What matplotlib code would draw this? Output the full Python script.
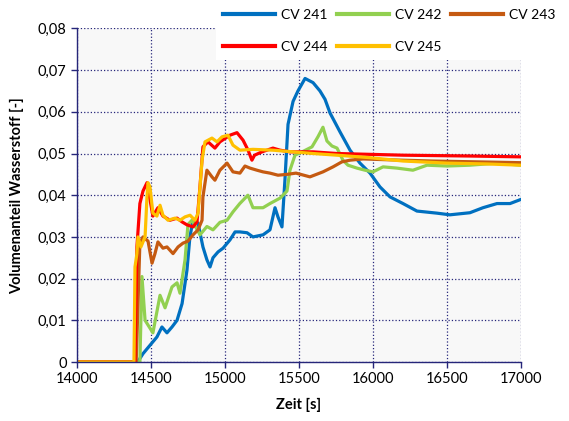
#import libraries
import matplotlib
matplotlib.use('Agg')
import matplotlib.pyplot as plt
import numpy as np

plt.rcParams['font.family'] = ['Lato', 'DejaVu Sans']

# data (time in s, hydrogen volume fraction)
t_241 = [14000, 14410, 14446, 14493, 14540, 14574, 14608, 14642, 14676, 14710, 14743, 14763,
         14784, 14818, 14851, 14878, 14899, 14919, 14953, 14987, 15034, 15068, 15101, 15149,
         15189, 15257, 15304, 15338, 15358, 15385, 15405, 15426, 15460, 15493, 15541, 15595,
         15642, 15676, 15710, 15777, 15845, 15912, 15980, 16047, 16115, 16203, 16297, 16432,
         16520, 16655, 16743, 16838, 16926, 17000]
v_241 = [0, 0, 0.002, 0.004, 0.006, 0.0084, 0.007, 0.0084, 0.010, 0.014, 0.022, 0.030,
         0.034, 0.0333, 0.0276, 0.0245, 0.0228, 0.025, 0.0264, 0.0273, 0.0293, 0.0312, 0.0312, 0.031,
         0.030, 0.0305, 0.0317, 0.037, 0.0348, 0.0324, 0.0436, 0.057, 0.0625, 0.065, 0.068, 0.067,
         0.065, 0.063, 0.0597, 0.0552, 0.0508, 0.0477, 0.0453, 0.042, 0.0396, 0.038, 0.0362, 0.0357,
         0.0353, 0.0358, 0.037, 0.038, 0.038, 0.039]

t_242 = [14000, 14425, 14439, 14460, 14513, 14561, 14595, 14642, 14676, 14696, 14730, 14750,
         14777, 14831, 14878, 14919, 14966, 15014, 15054, 15100, 15155, 15189, 15257, 15304,
         15372, 15419, 15439, 15473, 15527, 15588, 15628, 15662, 15689, 15723, 15757, 15797,
         15831, 15892, 15946, 16000, 16068, 16162, 16270, 16365, 16500, 16655, 16838, 17000]
v_242 = [0, 0, 0.0205, 0.010, 0.007, 0.016, 0.013, 0.018, 0.019, 0.0165, 0.0245, 0.033,
         0.034, 0.0305, 0.0325, 0.0317, 0.0335, 0.034, 0.036, 0.038, 0.040, 0.037, 0.037, 0.038,
         0.0393, 0.041, 0.046, 0.0496, 0.0505, 0.0516, 0.054, 0.0563, 0.053, 0.0518, 0.0513, 0.0484,
         0.0472, 0.0465, 0.046, 0.0456, 0.0468, 0.0465, 0.046, 0.0472, 0.047, 0.0472, 0.0477, 0.0472]

t_243 = [14000, 14400, 14425, 14446, 14480, 14507, 14527, 14547, 14581, 14608, 14649, 14683,
         14716, 14750, 14784, 14818, 14845, 14851, 14878, 14912, 14932, 14966, 15014, 15054,
         15101, 15135, 15169, 15216, 15257, 15304, 15358, 15419, 15480, 15574, 15662, 15730,
         15790, 15845, 15933, 16100, 16400, 16700, 17000]
v_243 = [0, 0, 0.0285, 0.030, 0.029, 0.0237, 0.026, 0.0288, 0.0273, 0.0276, 0.026, 0.0276,
         0.0285, 0.029, 0.0305, 0.0317, 0.034, 0.0396, 0.046, 0.0444, 0.0436, 0.046, 0.0477, 0.0456,
         0.0453, 0.047, 0.0465, 0.046, 0.0456, 0.0453, 0.0448, 0.045, 0.0453, 0.0444, 0.0456, 0.0468,
         0.048, 0.0484, 0.0487, 0.0485, 0.0482, 0.048, 0.0478]

t_244 = [14000, 14392, 14405, 14425, 14446, 14473, 14493, 14513, 14547, 14581, 14628, 14676,
         14710, 14743, 14784, 14811, 14831, 14851, 14885, 14932, 14966, 15034, 15081, 15122,
         15156, 15182, 15200, 15250, 15324, 15372, 15439, 15595, 15757, 16203, 16655, 17000]
v_244 = [0, 0, 0.0276, 0.038, 0.041, 0.043, 0.039, 0.035, 0.037, 0.035, 0.034, 0.0345,
         0.0336, 0.0329, 0.0324, 0.0336, 0.042, 0.0516, 0.0528, 0.0513, 0.0528, 0.0544, 0.055, 0.0532,
         0.0508, 0.0484, 0.0496, 0.0504, 0.0513, 0.0508, 0.0504, 0.0504, 0.050, 0.0496, 0.0494, 0.0492]

t_245 = [14000, 14385, 14392, 14405, 14412, 14432, 14460, 14473, 14480, 14493, 14513, 14540,
         14561, 14581, 14615, 14662, 14696, 14730, 14764, 14797, 14818, 14845, 14865, 14912,
         14946, 14980, 15020, 15054, 15101, 15189, 15324, 15595, 15757, 15980, 16203, 16500,
         16770, 17000]
v_245 = [0, 0, 0.0228, 0.026, 0.030, 0.0276, 0.030, 0.0396, 0.043, 0.042, 0.0357, 0.035,
         0.0376, 0.0352, 0.034, 0.0345, 0.034, 0.0348, 0.0352, 0.034, 0.0357, 0.0484, 0.0528, 0.0537,
         0.0528, 0.054, 0.0544, 0.052, 0.0508, 0.051, 0.0508, 0.050, 0.0496, 0.049, 0.0482, 0.0477,
         0.0475, 0.0472]

series = [
    ('CV 241', t_241, v_241, '#0070C0'),
    ('CV 242', t_242, v_242, '#92D050'),
    ('CV 243', t_243, v_243, '#C55A11'),
    ('CV 244', t_244, v_244, '#FF0000'),
    ('CV 245', t_245, v_245, '#FFC000'),
]

navy = '#26267A'

fig = plt.figure(figsize=(5.69, 4.21), dpi=100)
ax = fig.add_axes([0.1353, 0.1401, 0.7803, 0.7924])
ax.set_facecolor('#F8F8F8')

# draw each curve
lines = []
for name, t, v, col in series:
    l, = ax.plot(t, v, color=col, linewidth=2.3, label=name, solid_joinstyle='round')
    lines.append(l)

ax.set_xlim(14000, 17000)
ax.set_ylim(0, 0.08)
ax.set_xticks(np.arange(14000, 17001, 500))
ax.set_yticks(np.arange(0, 0.0801, 0.01))
ax.set_yticklabels(['0'] + ['0,0%d' % i for i in range(1, 9)])

# dotted grid, left and bottom axis lines only
ax.grid(True, color=navy, linestyle=':', linewidth=0.9)
ax.set_axisbelow(True)
for s in ['top', 'right']:
    ax.spines[s].set_visible(False)
for s in ['left', 'bottom']:
    ax.spines[s].set_color(navy)
    ax.spines[s].set_linewidth(1.0)
ax.tick_params(axis='both', colors=navy, labelcolor='black', labelsize=10.5, length=4, width=1.0)

ax.set_xlabel('Zeit [s]', fontsize=10.5, fontweight='bold', labelpad=8)
ax.set_ylabel('Volumenanteil Wasserstoff [-]', fontsize=10.5, fontweight='bold', labelpad=10)

# legend on white box in upper right, filled row by row
order = [0, 3, 1, 4, 2]
leg = fig.legend([lines[i] for i in order], [series[i][0] for i in order],
                 loc='upper right', bbox_to_anchor=(1.0, 1.012), ncol=3, fontsize=10,
                 frameon=True, facecolor='white', edgecolor='none', framealpha=1,
                 handlelength=3.75, handletextpad=0.4, columnspacing=0.7, labelspacing=1.45,
                 borderpad=0.5, fancybox=False)
for line in leg.get_lines():
    line.set_linewidth(3)

fig.savefig('out.png', dpi=100)
